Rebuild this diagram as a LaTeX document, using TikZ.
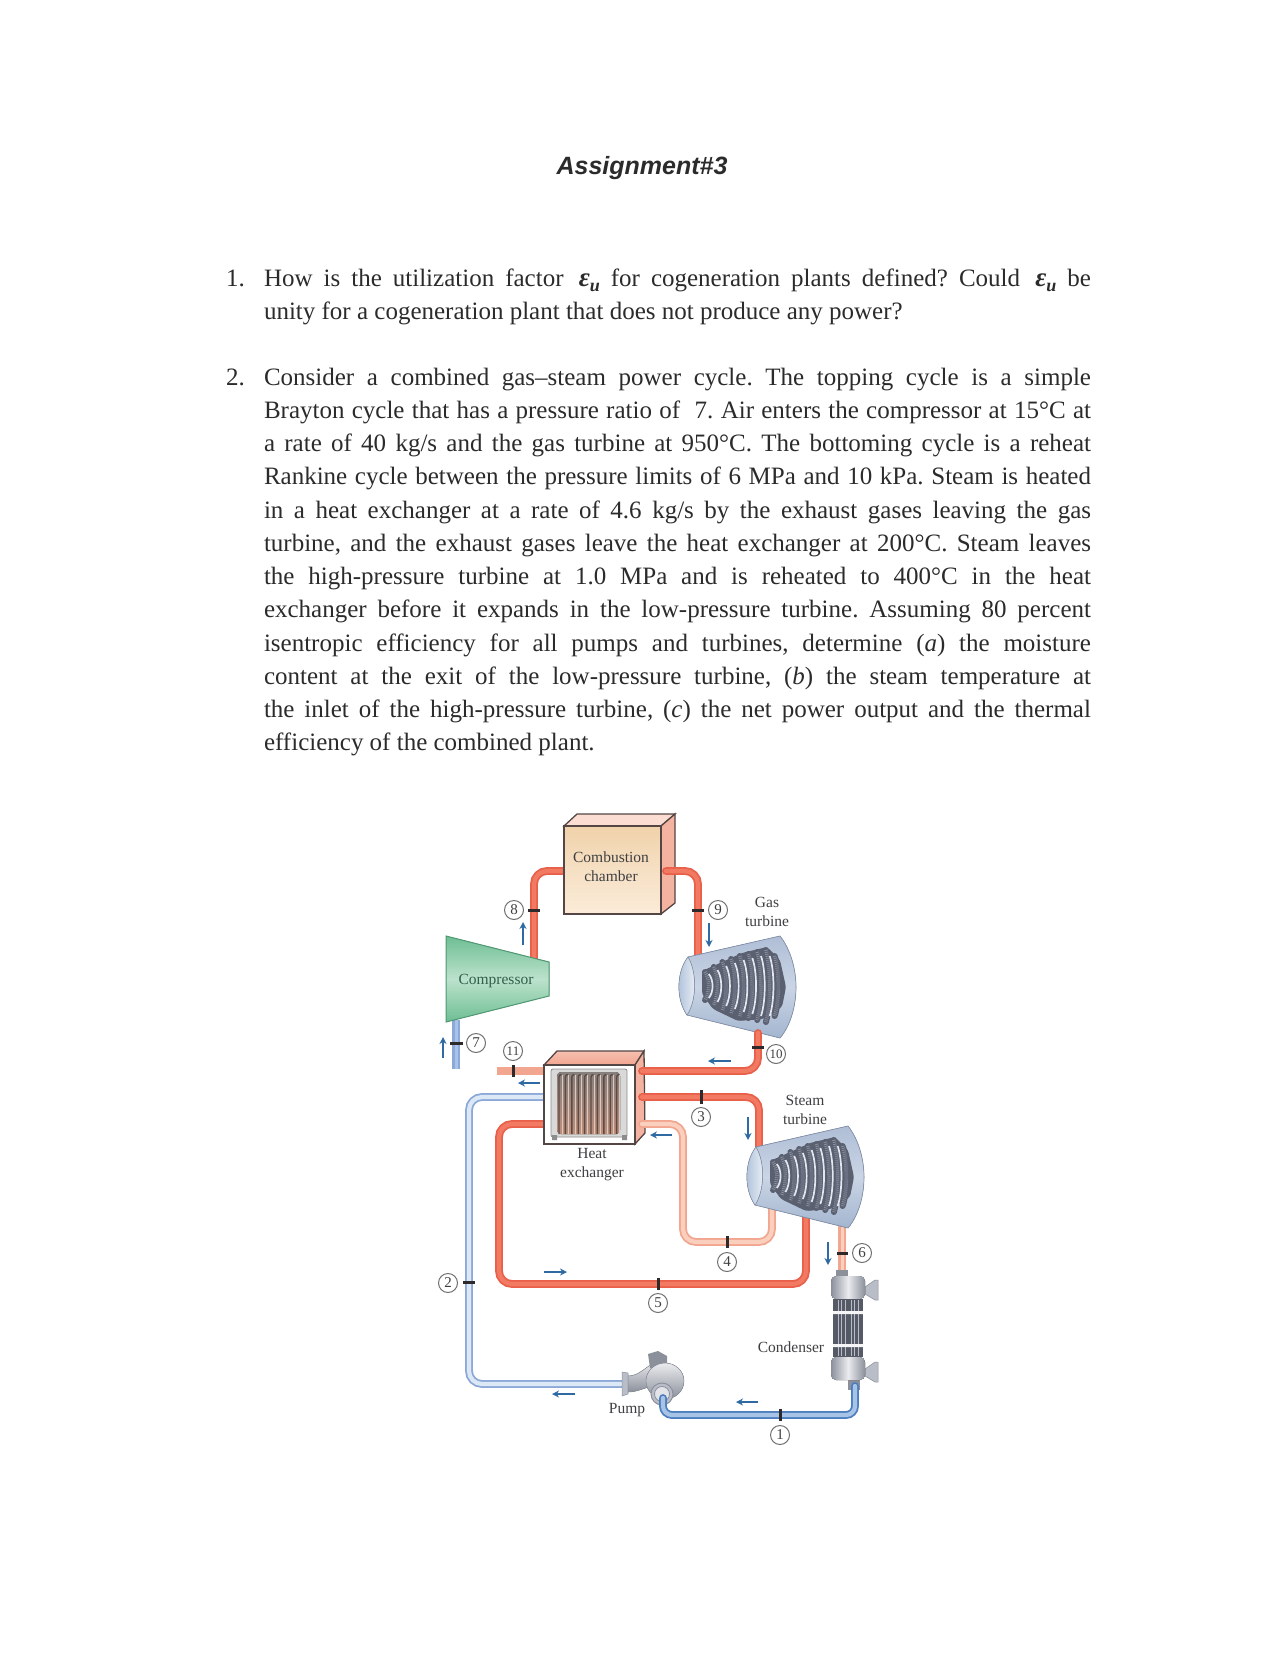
\documentclass[tikz,border=0pt]{standalone}
\usepackage{fontspec}
\setmainfont{Liberation Serif}
\newfontfamily\titlefont{Liberation Sans}
\usetikzlibrary{arrows.meta}
\definecolor{ink}{HTML}{2B2B2B}
\definecolor{labelink}{HTML}{3F3F42}
\definecolor{flowblue}{HTML}{2F6AA3}
\definecolor{tickdark}{HTML}{2E2A2C}
\definecolor{redout}{HTML}{E9604A}
\definecolor{redin}{HTML}{F27A62}
\definecolor{salout}{HTML}{F2A58F}
\definecolor{salin}{HTML}{FBCFBE}
\definecolor{paleout}{HTML}{8BA8D8}
\definecolor{palein}{HTML}{DDE8F6}
\definecolor{blueout}{HTML}{4C7EBF}
\definecolor{bluein}{HTML}{A7C4E6}
\definecolor{edgedark}{HTML}{544644}
\definecolor{bladedark}{HTML}{5A6070}
\definecolor{bladefin}{HTML}{8A90A0}
\definecolor{bladelight}{HTML}{E2E7F0}
\definecolor{steel}{HTML}{B9BDC7}
\definecolor{steeldark}{HTML}{8B909B}
\definecolor{steelcore}{HTML}{565A66}
\definecolor{bodyA}{HTML}{AFBED6}
\definecolor{bodyB}{HTML}{A3B5CF}
\definecolor{bodyC}{HTML}{CAD5E5}
\definecolor{bodyD}{HTML}{A9BDD8}
\definecolor{bodyE}{HTML}{8593AB}
\definecolor{ccA}{HTML}{F0D2AA}
\definecolor{ccB}{HTML}{F6E0C4}
\definecolor{ccC}{HTML}{FBEBD8}
\definecolor{compA}{HTML}{6DBE93}
\definecolor{compB}{HTML}{BCE2CC}
\definecolor{compE}{HTML}{4F9873}
\definecolor{complabelc}{HTML}{2F5F48}
\definecolor{tubeA}{HTML}{85807E}
\definecolor{tubeB}{HTML}{BE8E7A}
\definecolor{tubeD}{HTML}{5E4A44}
\definecolor{tubeL}{HTML}{DCC8BE}
\newcommand{\eu}{{\bfseries\itshape\fontsize{27}{33}\selectfont ε\raisebox{-.2em}{\fontsize{18}{18}\selectfont u}}}
\newcommand{\fl}[1]{\makebox[827pt][s]{#1}}
\newcommand{\turbineshape}{%
  \fill[top color=bodyA,bottom color=bodyB,middle color=bodyC,draw=bodyE,line width=.7pt]
    (688,957) -- (780,936) .. controls (791,950) and (796,970) .. (796,987)
    .. controls (796,1005) and (791,1025) .. (780,1038) -- (687,1015)
    .. controls (678,1000) and (678,972) .. (688,957) -- cycle;
  \fill[left color=bodyD,right color=white!80!bodyD,draw=bodyE,line width=.6pt]
    (688,957) .. controls (676,972) and (676,1000) .. (687,1015)
    .. controls (697,1000) and (697,972) .. (688,957) -- cycle;
  \fill[bladedark,rounded corners=3pt] (702,971) -- (720,963) -- (742,953) -- (767,947) -- (780,960) -- (786,987) -- (782,1007) -- (763,1019) -- (738,1021) -- (713,1009) -- (702,994) -- cycle;
  \foreach \i/\h in {0/14,1/19,2/24,3/27,4/30,5/32,6/34,7/36,8/30}{%
    \pgfmathsetmacro{\xx}{705+\i*8.7}
    \pgfmathsetmacro{\ya}{986-\h}
    \pgfmathsetmacro{\yb}{986+\h}
    \pgfmathsetmacro{\yc}{986-\h*.5}
    \pgfmathsetmacro{\yd}{986+\h*.5}
    \pgfmathsetmacro{\xc}{\xx+5}
    \draw[line width=6pt,bladedark,line cap=round] (\xx,\ya) .. controls (\xc,\yc) and (\xc,\yd) .. (\xx,\yb);
    \draw[line width=3.6pt,bladefin,dash pattern=on .8pt off 1.2pt] (\xx,\ya) .. controls (\xc,\yc) and (\xc,\yd) .. (\xx,\yb);
  }
  \foreach \i/\h in {0/12,1/16,2/20,3/23,4/26,5/28,6/30,7/30}{%
    \pgfmathsetmacro{\xx}{708.8+\i*8.7}
    \pgfmathsetmacro{\ya}{986-\h}
    \pgfmathsetmacro{\yb}{986+\h}
    \pgfmathsetmacro{\yc}{986-\h*.5}
    \pgfmathsetmacro{\yd}{986+\h*.5}
    \pgfmathsetmacro{\xc}{\xx+5}
    \draw[line width=1.7pt,bladelight] (\xx,\ya) .. controls (\xc,\yc) and (\xc,\yd) .. (\xx,\yb);
  }
}
\tikzset{
  txt/.style={anchor=base west,inner sep=0pt,outer sep=0pt,text=ink,font=\fontsize{25}{33}\selectfont\frenchspacing},
  lbl/.style={inner sep=0pt,text=labelink,align=center,font=\fontsize{15.5}{19}\selectfont},
  num/.style={circle,draw=labelink!75,line width=1pt,fill=white,minimum size=19pt,inner sep=0pt,text=labelink,font=\fontsize{15}{15}\selectfont},
  numsmall/.style={num,font=\fontsize{13}{13}\selectfont},
  pipebase/.style={rounded corners=13pt,line width=1.8pt,double distance=4.2pt},
  pipered/.style={pipebase,draw=redout,double=redin},
  pipesal/.style={pipebase,draw=salout,double=salin},
  pipepale/.style={pipebase,draw=paleout,double=palein},
  pipeblue/.style={pipebase,draw=blueout,double=bluein},
  tickmark/.style={draw=tickdark,line width=3pt},
  flowarrow/.style={draw=flowblue,line width=2.4pt,-{Stealth[length=7pt,width=7pt]}},
  outline/.style={draw=edgedark,line width=1.3pt},
}
\begin{document}
\begin{tikzpicture}[x=1pt,y=-1pt]
\useasboundingbox (0,0) rectangle (1280,1656);
\fill[white] (0,0) rectangle (1280,1656);
% text
\node[anchor=base,inner sep=0pt,text=ink,font=\titlefont\bfseries\itshape\fontsize{25}{30}\selectfont] (title) at (642,174.5) {Assignment\#3};
\node[txt] (n1) at (226,286) {1.};
\node[txt] (a1) at (264,286) {\fl{How is the utilization factor \,\eu{} for cogeneration plants defined? Could \,\eu{} be}};
\node[txt] (a2) at (264,319) {unity for a cogeneration plant that does not produce any power?};
\node[txt] (n2) at (226,385) {2.};
\node[txt] (b1) at (264,385) {\fl{Consider a combined gas–steam power cycle. The topping cycle is a simple}};
\node[txt] (b2) at (264,418.2) {\fl{Brayton cycle that has a pressure ratio of \ 7. Air enters the compressor at 15°C at}};
\node[txt] (b3) at (264,451.5) {\fl{a rate of 40 kg/s and the gas turbine at 950°C. The bottoming cycle is a reheat}};
\node[txt] (b4) at (264,484.7) {\fl{Rankine cycle between the pressure limits of 6 MPa and 10 kPa. Steam is heated}};
\node[txt] (b5) at (264,518) {\fl{in a heat exchanger at a rate of 4.6 kg/s by the exhaust gases leaving the gas}};
\node[txt] (b6) at (264,551.2) {\fl{turbine, and the exhaust gases leave the heat exchanger at 200°C. Steam leaves}};
\node[txt] (b7) at (264,584.5) {\fl{the high-pressure turbine at 1.0 MPa and is reheated to 400°C in the heat}};
\node[txt] (b8) at (264,617.7) {\fl{exchanger before it expands in the low-pressure turbine. Assuming 80 percent}};
\node[txt] (b9) at (264,651) {\fl{isentropic efficiency for all pumps and turbines, determine (\textit{a}) the moisture}};
\node[txt] (b10) at (264,684.2) {\fl{content at the exit of the low-pressure turbine, (\textit{b}) the steam temperature at}};
\node[txt] (b11) at (264,717.5) {\fl{the inlet of the high-pressure turbine, (\textit{c}) the net power output and the thermal}};
\node[txt] (b12) at (264,750.7) {efficiency of the combined plant.};
% pipe end points
\coordinate (ccL) at (564,871);
\coordinate (ccR) at (666,871);
\coordinate (compOut) at (534,962);
\coordinate (gtIn) at (698,958);
\coordinate (gtOut) at (758,1033);
\coordinate (hxGasIn) at (642,1071);
\coordinate (hxGasOut) at (545,1071);
\coordinate (stack) at (497,1071);
\coordinate (compIn) at (456,1020);
\coordinate (airEnd) at (456,1069);
\coordinate (hxWaterIn) at (544,1097);
\coordinate (hxSteamOut) at (642,1097);
\coordinate (hxReIn) at (642,1124);
\coordinate (hxReOut) at (544,1124);
\coordinate (stIn) at (759,1150);
\coordinate (stBleed) at (772,1205);
\coordinate (stLP) at (806,1215);
\coordinate (stOut) at (842,1226);
\coordinate (condIn) at (842,1272);
\coordinate (condOut) at (855,1386);
\coordinate (pumpIn) at (663,1398);
\coordinate (pumpOut) at (625,1384);
% pipes behind equipment
\draw[pipered] (compOut) |- (ccL);
\draw[line width=8pt,draw=paleout] (compIn) -- (airEnd);
\draw[line width=3pt,draw=bluein] (compIn) -- (airEnd);
\draw[line width=8pt,draw=salout] (stack) -- (hxGasOut);
\draw[pipepale] (pumpOut) -- (469,1384) -- (469,1097) -- (hxWaterIn);
\draw[pipered] (hxReOut) -- (499,1124) -- (499,1284) -- (806,1284) -- (stLP);
\draw[line width=8pt,draw=salout] (stOut) -- (condIn);
\draw[line width=3pt,draw=salin] (stOut) -- (condIn);
% combustion chamber
\fill[fill=salin!70!white,outline] (564,826) -- (577,814) -- (675,814) -- (661,826) -- cycle;
\fill[fill=salout!85!white,outline] (661,826) -- (675,814) -- (675,903) -- (661,914) -- cycle;
\fill[top color=ccA,bottom color=ccC,middle color=ccB,outline] (564,826) rectangle (661,914);
\node[lbl] (cclabel) at (611,867) {Combustion\\chamber};
\draw[pipered,line cap=round] (ccR) -| (gtIn);
% compressor
\fill[top color=compA,bottom color=compA,middle color=compB,draw=compE,line width=1pt] (446,936) -- (549,962) -- (549,996) -- (446,1022) -- cycle;
\node[lbl,text=complabelc] (complabel) at (496,981) {Compressor};
% gas turbine
\turbineshape
\node[lbl] (gtlabel) at (767,912) {Gas\\turbine};
% heat exchanger
\fill[top color=salout!70!white,bottom color=salout,outline] (544,1065) -- (557,1051) -- (644,1051) -- (635,1065) -- cycle;
\fill[fill=salout!85!white,outline] (635,1065) -- (644,1051) -- (645,1133) -- (635,1144) -- cycle;
\fill[white,outline] (544,1065) rectangle (635,1144);
\fill[fill=black!15,draw=black!45,line width=.8pt,rounded corners=2pt] (551,1069) rectangle (627,1137);
\fill[top color=tubeA,bottom color=tubeB,draw=none,rounded corners=4pt] (557,1072) rectangle (620,1134);
\foreach \i in {0,...,9}{
  \pgfmathsetmacro{\xa}{559+\i*6.4}
  \pgfmathsetmacro{\xb}{\xa+3.2}
  \draw[line width=1.4pt,draw=tubeD] (\xa,1134) -- (\xa,1077) arc[start angle=180,end angle=90,radius=2.5pt];
  \draw[line width=.8pt,draw=tubeL] (\xb,1134) -- (\xb,1075);
}
\fill[black!45] (552,1135) rectangle (557,1140) (622,1135) rectangle (627,1140);
\node[lbl] (hxlabel) at (592,1165) {Heat\\exchanger};
% pipes in front of the heat exchanger side
\draw[pipered,line cap=round] (gtOut) |- (hxGasIn);
\draw[pipered,line cap=round] (hxSteamOut) -- (759,1097) -- (stIn);
\draw[pipesal,line cap=round] (hxReIn) -- (683,1124) -- (683,1242) -- (772,1242) -- (stBleed);
% steam turbine
\begin{scope}[shift={(68,190)}]
\turbineshape
\end{scope}
\node[lbl] (stlabel) at (805,1110) {Steam\\turbine};
% condenser
\fill[steeldark] (836,1270) rectangle (848,1276);
\fill[steeldark] (848,1380) rectangle (860,1390);
\fill[steel,draw=steeldark,line width=.5pt] (865,1287) -- (875,1280) -- (878,1280) -- (878,1300) -- (875,1300) -- (865,1294) -- cycle;
\fill[steel,draw=steeldark,line width=.5pt] (865,1369) -- (875,1362) -- (878,1362) -- (878,1382) -- (875,1382) -- (865,1376) -- cycle;
\fill[left color=steeldark,right color=steeldark,middle color=white!70!steel,rounded corners=5pt] (831,1276) rectangle (865,1299);
\fill[left color=steeldark,right color=steeldark,middle color=white!70!steel,rounded corners=5pt] (831,1357) rectangle (865,1380);
\fill[fill=steelcore] (833,1299) rectangle (863,1357);
\foreach \x in {838,841.5,845,851,854.5,858}{\draw[line width=.8pt,draw=steel] (\x,1300) -- (\x,1356);}
\fill[white!85!steel] (833,1311) rectangle (863,1314) (833,1344) rectangle (863,1347);
\node[lbl] (condlabel) at (791,1347) {Condenser};
% pump
\fill[steel,draw=steeldark,line width=.5pt] (622,1372) -- (628,1373) -- (628,1394) -- (622,1396) -- cycle;
\fill[top color=white!60!steel,bottom color=steeldark,draw=steeldark,line width=.5pt] (628,1376) .. controls (638,1376) and (645,1368) .. (652,1364) -- (660,1385) .. controls (648,1385) and (640,1392) .. (628,1392) -- cycle;
\fill[steeldark] (648,1354) -- (658,1351) -- (667,1356) -- (667,1368) -- (650,1368) -- cycle;
\fill[top color=white!70!steel,bottom color=steeldark,draw=steeldark,line width=.5pt] (665,1381) ellipse (19pt and 18pt);
\fill[steel,draw=steeldark,line width=1pt] (662,1394) circle (11pt);
\fill[white!60!steel,draw=steeldark,line width=.8pt] (662,1394) circle (7.5pt);
\node[lbl] (pumplabel) at (627,1410) {Pump};
\draw[pipeblue,rounded corners=9pt,line cap=round] (pumpIn) -- (663,1415) -- (855,1415) -- (condOut);
% section marks
\draw[tickmark] (528,910) -- (540,910);
\draw[tickmark] (692,910) -- (704,910);
\draw[tickmark] (450,1043) -- (463,1043);
\draw[tickmark] (752,1047) -- (764,1047);
\draw[tickmark] (513,1065) -- (513,1077);
\draw[tickmark] (701,1090) -- (701,1104);
\draw[tickmark] (727,1236) -- (727,1248);
\draw[tickmark] (658,1278) -- (658,1290);
\draw[tickmark] (837,1253) -- (848,1253);
\draw[tickmark] (463,1282) -- (475,1282);
\draw[tickmark] (780,1409) -- (780,1421);
% state numbers
\node[num] (s1) at (780,1435) {1};
\node[num] (s2) at (448,1283) {2};
\node[num] (s3) at (701,1117) {3};
\node[num] (s4) at (727,1262) {4};
\node[num] (s5) at (658,1303) {5};
\node[num] (s6) at (862,1253) {6};
\node[num] (s7) at (476,1043) {7};
\node[num] (s8) at (514,910) {8};
\node[num] (s9) at (718,910) {9};
\node[numsmall] (s10) at (776,1054) {10};
\node[numsmall] (s11) at (513,1051) {11};
% flow arrows
\foreach \n/\xa/\ya/\xb/\yb in {a/523/945/523/922, b/709/923/709/947, c/443/1058/443/1037, d/731/1061/708/1061, e/540/1083/518/1083, f/672/1135/650/1135, g/748/1117/748/1140, h/544/1272/567/1272, i/828/1242/828/1265, j/758/1402/736/1402, k/575/1394/552/1394}{
  \coordinate (f\n s) at (\xa,\ya);
  \coordinate (f\n e) at (\xb,\yb);
  \draw[flowarrow] (f\n s) -- (f\n e);
}
\end{tikzpicture}
\end{document}
